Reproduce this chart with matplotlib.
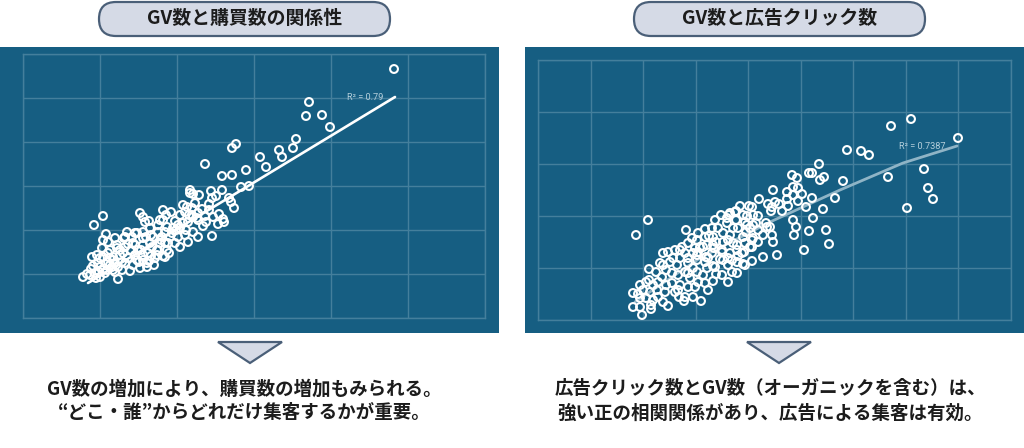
import matplotlib
matplotlib.use("Agg")
import matplotlib.pyplot as plt
from matplotlib.patches import FancyBboxPatch, Polygon, Rectangle

plt.rcParams['font.family'] = ['Noto Sans CJK JP', 'DejaVu Sans']

# no axis labels in the picture, so the units are just "one grid cell = 77 / 44"
gv_left = [371,286,283,299,307,273,270,256,259,237,243,223,213,209,182,199,209,218,226,188,199,167,170,176,206,208,211,196,189,193,186,172,167,186,179,160,162,170,182,200,166,190,140,148,117,120,80,71,175,183,195,201,189,175,157,143,137,126,122,152,165,150,160,170,175,165,157,144,135,127,120,114,104,83,80,85,92,102,109,120,130,139,147,155,162,145,137,129,120,112,102,94,87,79,74,69,144,140,134,125,115,105,97,90,80,70,77,131,124,117,110,102,95,87,84,76,99,120,114,60,67,73,77,95,82,90,64,77,85,94,101,112,110,124,142,164,169,140,142,134,120,90,99,89,80,72,135,105,127,149,112,97,87,157,169,132,92,85,123,142,152,100,108,118,128,135,107,116,126,146,155,163,174,180,153,128,138,92,75,68]
purchases = [249,216,202,203,191,179,170,168,161,161,151,148,174,170,154,142,143,131,132,127,128,128,124,123,120,116,110,104,120,122,114,115,125,108,109,113,106,101,102,99,103,101,108,106,105,101,102,93,98,96,94,96,82,105,103,103,98,97,96,97,96,90,95,86,81,76,71,91,93,90,86,85,86,84,78,76,80,81,81,80,81,81,81,81,83,75,75,71,73,73,71,73,68,70,63,61,68,62,63,65,68,60,63,58,61,52,51,53,55,50,53,55,51,53,48,46,48,58,58,41,43,40,41,39,45,48,44,60,65,70,80,85,75,51,61,111,103,98,75,68,63,61,56,51,48,45,86,74,75,85,63,68,60,90,110,60,46,56,81,86,75,65,68,68,62,68,47,56,57,65,93,88,100,92,88,83,78,55,55,49]
trend_left_x = [65, 372]
trend_left_y = [35, 221]

gv_right = [373,353,420,309,323,331,281,386,254,259,271,274,286,282,305,350,390,395,369,297,274,268,285,275,255,258,288,271,256,291,266,239,225,235,234,228,214,235,249,255,260,264,255,249,260,250,244,241,237,230,234,233,221,214,220,215,229,220,215,220,212,202,211,191,197,205,177,189,209,195,209,218,232,214,205,174,180,167,185,190,175,167,159,205,214,199,212,185,175,165,157,184,192,204,174,167,159,182,190,175,110,98,111,163,130,146,190,95,104,102,113,95,100,102,111,124,134,125,130,137,144,122,125,132,142,154,160,189,192,198,207,207,199,194,184,175,167,155,147,141,150,142,134,120,127,119,112,105,102,108,115,137,152,159,169,177,185,194,199,150,159,168,184,199,207,162,169,195,155,147,150,139,147,157,113,170,178,192,200,176,160,150,142,135,155,165,178,190,200,208,215,225,198,183,120,128,140,150,115,108,160,170,128,118,140,125,206,171,148]
clicks = [201,194,182,170,169,165,156,151,145,142,147,147,143,140,139,143,132,121,112,122,122,113,111,102,100,93,90,89,85,76,70,65,63,78,85,97,73,130,128,133,132,126,125,121,119,114,109,116,118,116,113,109,121,113,104,105,93,90,82,78,92,114,114,105,108,105,100,97,104,92,95,97,93,59,56,92,92,91,87,80,83,83,80,83,80,75,73,78,75,73,72,70,67,67,67,58,65,61,55,54,100,85,51,19,14,19,38,13,5,13,15,27,26,35,40,43,47,67,68,70,73,57,55,58,62,82,87,102,107,109,98,55,47,48,45,39,37,23,23,23,33,35,37,23,28,30,28,30,22,22,20,28,42,48,52,53,60,60,58,57,60,63,68,70,77,73,75,77,67,67,77,55,48,33,11,62,78,85,92,72,68,62,70,62,52,45,46,62,64,88,95,85,100,105,38,35,45,47,35,38,38,30,50,48,30,18,68,84,90]
trend_right_x = [97, 162, 232, 302, 365, 419]
trend_right_y = [18, 62, 98, 130, 157, 174]

PANEL = "#165e82"
GRID = "#447f9c"
PILL = "#d5dae6"
EDGE = "#4a5f78"
TEXT = "#1c1c1c"

fig = plt.figure(figsize=(10.24, 4.48), dpi=100, facecolor="white")

# page layer in picture pixels: panels, pills, arrows, captions
page = fig.add_axes([0, 0, 1, 1], zorder=0)
page.set_xlim(0, 1024)
page.set_ylim(448, 0)
page.axis("off")

for x0 in [0, 525]:
    page.add_patch(Rectangle((x0, 47), 499, 286, facecolor=PANEL, edgecolor="none"))

for x0, title in [(99, "GV数と購買数の関係性"), (634, "GV数と広告クリック数")]:
    page.add_patch(FancyBboxPatch((x0, 2), 291, 34, boxstyle="round,pad=0,rounding_size=17",
                                  mutation_aspect=1, facecolor=PILL, edgecolor=EDGE, linewidth=1.6))
    page.text(x0 + 145.5, 18.5, title, fontsize=13.6, fontweight="bold", color=TEXT, ha="center", va="center")

for tip in [250, 779]:
    page.add_patch(Polygon([(tip - 32, 342), (tip + 32, 342), (tip, 363)], closed=True,
                           facecolor=PILL, edgecolor=EDGE, linewidth=1.6))

page.text(244, 389, "GV数の増加により、購買数の増加もみられる。", fontsize=13.3, fontweight="bold",
          color=TEXT, ha="center", va="center")
page.text(244, 413, "“どこ・誰”からどれだけ集客するかが重要。", fontsize=13.3, fontweight="bold",
          color=TEXT, ha="center", va="center")
page.text(770, 389, "広告クリック数とGV数（オーガニックを含む）は、", fontsize=13.3, fontweight="bold",
          color=TEXT, ha="center", va="center")
page.text(770, 413, "強い正の相関関係があり、広告による集客は有効。", fontsize=13.3, fontweight="bold",
          color=TEXT, ha="center", va="center")


def scatter_panel(px_box, xlim, ylim, xstep, ystep, xs, ys, tx, ty, tcolor, tlw, label, label_xy):
    left, top, w, h = px_box
    ax = fig.add_axes([left / 1024, 1 - (top + h) / 448, w / 1024, h / 448], zorder=1)
    ax.patch.set_alpha(0)
    ax.set_xlim(0, xlim)
    ax.set_ylim(0, ylim)
    ax.set_xticks([xstep * i for i in range(round(xlim / xstep) + 1)])
    ax.set_yticks([ystep * i for i in range(round(ylim / ystep) + 1)])
    ax.grid(True, color=GRID, linewidth=1.0)
    ax.set_axisbelow(True)
    ax.tick_params(length=0, labelbottom=False, labelleft=False)
    for s in ax.spines.values():
        s.set_color(GRID)
        s.set_linewidth(1.0)
    ax.plot(tx, ty, color=tcolor, linewidth=tlw, solid_capstyle="round", zorder=3, clip_on=False)
    ax.scatter(xs, ys, s=32, facecolors="none", edgecolors="white", linewidths=1.5, zorder=4, clip_on=False)
    ax.text(label_xy[0], label_xy[1], label, fontsize=6.6, color="#b4cfdb", family="Roboto",
            ha="left", va="center", zorder=5)
    return ax


scatter_panel((23, 54, 462, 264), 462, 264, 77, 44, gv_left, purchases,
              trend_left_x, trend_left_y, "white", 1.9, "R² = 0.79", (324, 221))
scatter_panel((538, 60, 472.5, 260), 472.5, 260, 52.5, 52, gv_right, clicks,
              trend_right_x, trend_right_y, "#8fb4c6", 2.0, "R² = 0.7387", (361, 174))

fig.savefig("out.png", dpi=100)
